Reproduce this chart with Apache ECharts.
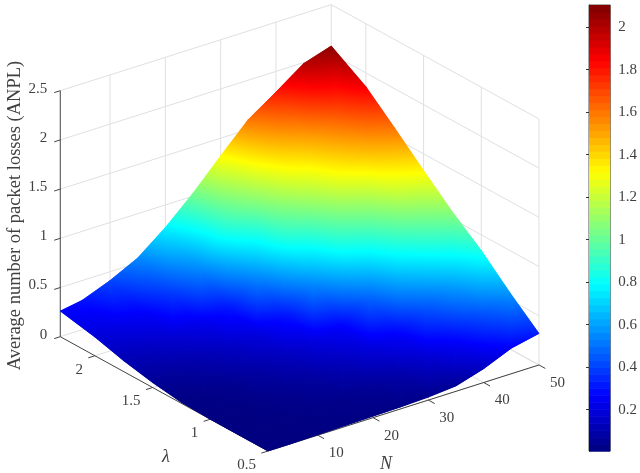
<!DOCTYPE html>
<html><head><meta charset="utf-8">
<style>html,body{margin:0;padding:0;background:#fff}#c{width:640px;height:473px}</style>
<script src="https://cdn.jsdelivr.net/npm/echarts@6/dist/echarts.min.js"></script>
</head><body><div id="c"></div>
<script>
// ---------- data ----------
const nValues = [1,5,10,15,20,25,30,35,40,45,50];
const lambdaValues = [0.5,0.75,1,1.25,1.5,1.75,2,2.3];
const lossAtLambda050 = [0,0,0.005,0.01,0.015,0.02,0.03,0.055,0.14,0.26,0.32];
const lossAtLambda075 = [0,0.005,0.01,0.02,0.03,0.05,0.09,0.17,0.27,0.42,0.57];
const lossAtLambda100 = [0,0.005,0.02,0.04,0.07,0.12,0.19,0.267,0.45,0.63,0.84];
const lossAtLambda125 = [0.01,0.02,0.04,0.08,0.13,0.2,0.267,0.49,0.74,0.92,1.07];
const lossAtLambda150 = [0.05,0.06,0.09,0.14,0.2,0.31,0.58,0.84,1.0,1.21,1.33];
const lossAtLambda175 = [0.11,0.13,0.17,0.22,0.31,0.58,0.9,1.09,1.3,1.47,1.6];
const lossAtLambda200 = [0.19,0.21,0.25,0.38,0.56,0.88,1.1,1.34,1.5,1.68,1.86];
const lossAtLambda230 = [0.26,0.30,0.41,0.55,0.77,1.03,1.32,1.6,1.79,1.99,2.08];
const lossRows = [lossAtLambda050,lossAtLambda075,lossAtLambda100,lossAtLambda125,lossAtLambda150,lossAtLambda175,lossAtLambda200,lossAtLambda230];
const nTicks = [10,20,30,40,50];
const lambdaTicks = [0.5,1,1.5,2];
const lossTicks = [0,0.5,1,1.5,2,2.5];
const colorbarTicks = [0.2,0.4,0.6,0.8,1,1.2,1.4,1.6,1.8,2];
const colorMin = 0.005, colorMax = 2.104;
const nMin = 1, nMax = 50, lambdaMin = 0.5, lambdaMax = 2.3, lossMax = 2.5;
const yTitle = 'Average number of packet losses (ANPL)';

// ---------- view ----------
const FONT = '"Liberation Serif","Times New Roman",serif';
const TEXT = '#404040', GRID = '#e0e0e0', AXIS = '#444444';
function project(n, l, z){
  return [268 + 5.53*(n-1) - 115.4*(l-0.5), 451 - 1.756*(n-1) - 63.5*(l-0.5) - 98.4*z];
}
function jet(t){
  t = Math.max(0, Math.min(1, t));
  const c = v => Math.round(255*Math.max(0, Math.min(1, v)));
  const r = 1.5 - Math.abs(4*t-3), g = 1.5 - Math.abs(4*t-2), b = 1.5 - Math.abs(4*t-1);
  return 'rgb('+c(r)+','+c(g)+','+c(b)+')';
}
const toT = z => (z-colorMin)/(colorMax-colorMin);
const JET_BREAKS = [0.125,0.375,0.625,0.875];

function triangleFill(p, zs){
  const [a,b,c] = p, [za,zb,zc] = zs;
  const zmin = Math.min(za,zb,zc), zmax = Math.max(za,zb,zc);
  const det = (b[0]-a[0])*(c[1]-a[1]) - (c[0]-a[0])*(b[1]-a[1]);
  if (zmax-zmin < 1e-6 || Math.abs(det) < 1e-6) return jet(toT((za+zb+zc)/3));
  const gx = ((zb-za)*(c[1]-a[1]) - (zc-za)*(b[1]-a[1]))/det;
  const gy = ((zc-za)*(b[0]-a[0]) - (zb-za)*(c[0]-a[0]))/det;
  const g2 = gx*gx+gy*gy;
  const lowest = zs.indexOf(zmin), s = p[lowest], d = (zmax-zmin)/g2;
  const stops = [{offset:0,color:jet(toT(zmin))}];
  JET_BREAKS.forEach(tb=>{
    const zb2 = colorMin + tb*(colorMax-colorMin);
    if (zb2>zmin && zb2<zmax) stops.push({offset:(zb2-zmin)/(zmax-zmin),color:jet(tb)});
  });
  stops.push({offset:1,color:jet(toT(zmax))});
  return new echarts.graphic.LinearGradient(s[0],s[1],s[0]+gx*d,s[1]+gy*d,stops,true);
}

// ---------- line / label tables built from ticks ----------
const gridLines = [], axisLines = [];
const seg = (list,a,b)=>list.push([a,b]);
nTicks.forEach(n=>{
  seg(gridLines,[n,lambdaMin,0],[n,lambdaMax,0]);
  seg(gridLines,[n,lambdaMax,0],[n,lambdaMax,lossMax]);
});
lambdaTicks.forEach(l=>{
  seg(gridLines,[nMin,l,0],[nMax,l,0]);
  seg(gridLines,[nMax,l,0],[nMax,l,lossMax]);
});
lossTicks.forEach(z=>{
  seg(gridLines,[nMin,lambdaMax,z],[nMax,lambdaMax,z]);
  seg(gridLines,[nMax,lambdaMax,z],[nMax,lambdaMin,z]);
});
seg(axisLines,[nMin,lambdaMax,0],[nMin,lambdaMax,lossMax]);
seg(axisLines,[nMin,lambdaMax,0],[nMin,lambdaMin,0]);
seg(axisLines,[nMin,lambdaMin,0],[nMax,lambdaMin,0]);
lossTicks.forEach(z=>seg(axisLines,[nMin,lambdaMax,z],[nMin-1.1,lambdaMax,z]));
lambdaTicks.forEach(l=>seg(axisLines,[nMin,l,0],[nMin-1.2,l,0]));
nTicks.forEach(n=>seg(axisLines,[n,lambdaMin,0],[n,lambdaMin-0.055,0]));

const labels = [];
lossTicks.forEach(z=>{const p=project(nMin,lambdaMax,z);labels.push({t:String(z),x:p[0]-13,y:p[1]-2,a:'right'});});
lambdaTicks.forEach(l=>{const p=project(nMin,l,0);labels.push({t:String(l),x:p[0]-12,y:p[1]+14,a:'right'});});
nTicks.forEach(n=>{const p=project(n,lambdaMin,0);labels.push({t:String(n),x:p[0]+11,y:p[1]+18,a:'left'});});

// ---------- triangles, back to front ----------
const triangles = [];
for (let j=lambdaValues.length-2;j>=0;j--) for (let i=nValues.length-2;i>=0;i--){
  triangles.push([i,j,0]); triangles.push([i,j,1]);
}
const levels = []; for (let k=0;k<64;k++) levels.push(k);

const chart = echarts.init(document.getElementById('c'),null,{renderer:'canvas'});
const lineRender = (list,color,width)=>(params,api)=>{
  const s = list[params.dataIndex];
  const a = api.coord(project(...s[0])), b = api.coord(project(...s[1]));
  return {type:'line',shape:{x1:a[0],y1:a[1],x2:b[0],y2:b[1]},style:{stroke:color,lineWidth:width}};
};
const idx = list=>list.map((_,i)=>[i,0]);
const screenSeries = o=>Object.assign({type:'custom',coordinateSystem:'cartesian2d',xAxisIndex:0,yAxisIndex:0,silent:true,animation:false,progressive:0,clip:false,encode:{x:0,y:1}},o);
const surfaceRender = strokeWidth => (params,api)=>{
  const t = triangles[params.dataIndex], i=t[0], j=t[1];
  const cells = t[2]===0 ? [[i,j],[i+1,j],[i+1,j+1]] : [[i,j],[i+1,j+1],[i,j+1]];
  const pts = cells.map(c=>api.coord(project(nValues[c[0]],lambdaValues[c[1]],lossRows[c[1]][c[0]])));
  const zs = cells.map(c=>lossRows[c[1]][c[0]]);
  const fill = triangleFill(pts,zs);
  return {type:'polygon',shape:{points:pts},style:strokeWidth?{fill:fill,stroke:fill,lineWidth:strokeWidth}:{fill:fill,stroke:null}};
};
const triData = triangles.map(t=>[t[0],t[1],t[2]]);

chart.setOption({
  animation:false,
  backgroundColor:'#fff',
  grid:[
    {left:0,top:0,width:640,height:473,show:false},
    {left:589,top:5,width:27,height:446,show:true,borderColor:'#555',borderWidth:1,backgroundColor:'transparent'}
  ],
  xAxis:[
    {type:'value',gridIndex:0,min:0,max:640,show:false},
    {type:'value',gridIndex:1,min:0,max:1,show:false}
  ],
  yAxis:[
    {type:'value',gridIndex:0,min:0,max:473,inverse:true,show:false},
    {type:'value',gridIndex:1,min:colorMin,max:colorMax,position:'right',splitLine:{show:false},
     axisLine:{show:true,lineStyle:{color:'#555',width:1}},
     axisTick:{show:true,inside:true,length:3,customValues:colorbarTicks,lineStyle:{color:'#333'}},
     axisLabel:{show:true,margin:8,color:TEXT,fontFamily:FONT,fontSize:15,customValues:colorbarTicks,formatter:v=>String(+v.toFixed(1)),hideOverlap:false,showMinLabel:true,showMaxLabel:true}}
  ],
  series:[
    screenSeries({name:'grid',z:1,data:idx(gridLines),renderItem:lineRender(gridLines,GRID,1)}),
    screenSeries({name:'axes',z:2,data:idx(axisLines),renderItem:lineRender(axisLines,AXIS,1)}),
    screenSeries({name:'surface underlay',z:3,data:triData,renderItem:surfaceRender(0.8)}),
    screenSeries({name:'surface',z:3.5,data:triData,renderItem:surfaceRender(0)}),
    screenSeries({name:'labels',z:4,data:idx(labels),renderItem:(params,api)=>{
      const l = labels[params.dataIndex], p = api.coord([l.x,l.y]);
      return {type:'text',style:{text:l.t,x:p[0],y:p[1],align:l.a,verticalAlign:'middle',fill:TEXT,font:'15px '+FONT}};
    }}),
    screenSeries({name:'titles',z:4,data:[[0,0],[1,0],[2,0]],renderItem:(params,api)=>{
      if (params.dataIndex===0){
        const p = api.coord([15,215.5]);
        return {type:'text',x:p[0],y:p[1],rotation:Math.PI/2,style:{text:yTitle,x:0,y:0,align:'center',verticalAlign:'middle',fill:TEXT,font:'18.5px '+FONT}};
      }
      const q = params.dataIndex===1 ? [166,457] : [386,464];
      const p = api.coord(q);
      return {type:'text',style:{text:params.dataIndex===1?'λ':'N',x:p[0],y:p[1],align:'center',verticalAlign:'middle',fill:TEXT,font:'italic 18px '+FONT}};
    }}),
    {name:'colorbar',type:'custom',coordinateSystem:'cartesian2d',xAxisIndex:1,yAxisIndex:1,silent:true,z:2,animation:false,progressive:0,
     data:levels.map(k=>[0,k]),encode:{x:0},renderItem:(params,api)=>{
       const k = params.dataIndex, span=(colorMax-colorMin)/64;
       const a = api.coord([0,colorMin+k*span]), b = api.coord([1,colorMin+(k+1)*span]);
       return {type:'rect',shape:{x:a[0],y:b[1],width:b[0]-a[0],height:a[1]-b[1]+0.6},style:{fill:jet((k+0.5)/64)}};
     }}
  ]
});
</script></body></html>
